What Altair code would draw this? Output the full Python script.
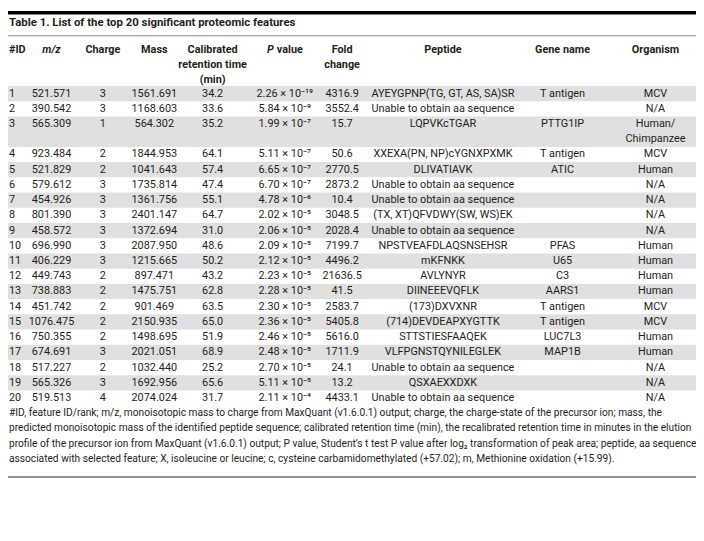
import altair as alt
import pandas as pd

TITLE = "Table 1. List of the top 20 significant proteomic features"
HEADERS = ["#ID", "m/z", "Charge", "Mass", "Calibrated\nretention time\n(min)",
           "P value", "Fold\nchange", "Peptide", "Gene name", "Organism"]
IDS = ["1", "2", "3", "4", "5", "6", "7", "8", "9", "10",
       "11", "12", "13", "14", "15", "16", "17", "18", "19", "20"]
MZ = ["521.571", "390.542", "565.309", "923.484", "521.829", "579.612", "454.926",
      "801.390", "458.572", "696.990", "406.229", "449.743", "738.883", "451.742",
      "1076.475", "750.355", "674.691", "517.227", "565.326", "519.513"]
CHARGE = ["3", "3", "1", "2", "2", "3", "3", "3", "3", "3",
          "3", "2", "2", "2", "2", "2", "3", "2", "3", "4"]
MASS = ["1561.691", "1168.603", "564.302", "1844.953", "1041.643", "1735.814",
        "1361.756", "2401.147", "1372.694", "2087.950", "1215.665", "897.471",
        "1475.751", "901.469", "2150.935", "1498.695", "2021.051", "1032.440",
        "1692.956", "2074.024"]
RT = ["34.2", "33.6", "35.2", "64.1", "57.4", "47.4", "55.1", "64.7", "31.0", "48.6",
      "50.2", "43.2", "62.8", "63.5", "65.0", "51.9", "68.9", "25.2", "65.6", "31.7"]
P_MANTISSA = ["2.26", "5.84", "1.99", "5.11", "6.65", "6.70", "4.78", "2.02", "2.06",
              "2.09", "2.12", "2.23", "2.28", "2.30", "2.36", "2.46", "2.48", "2.70",
              "5.11", "2.11"]
P_EXPONENT = [-19, -9, -7, -7, -7, -7, -6, -5, -5, -5,
              -5, -5, -5, -5, -5, -5, -5, -5, -5, -4]
FOLD = ["4316.9", "3552.4", "15.7", "50.6", "2770.5", "2873.2", "10.4", "3048.5",
        "2028.4", "7199.7", "4496.2", "21636.5", "41.5", "2583.7", "5405.8", "5616.0",
        "1711.9", "24.1", "13.2", "4433.1"]
UNABLE = "Unable to obtain aa sequence"
PEPTIDE = ["AYEYGPNP(TG, GT, AS, SA)SR", UNABLE, "LQPVKcTGAR", "XXEXA(PN, NP)cYGNXPXMK",
           "DLIVATIAVK", UNABLE, UNABLE, "(TX, XT)QFVDWY(SW, WS)EK", UNABLE,
           "NPSTVEAFDLAQSNSEHSR", "mKFNKK", "AVLYNYR", "DIINEEEVQFLK", "(173)DXVXNR",
           "(714)DEVDEAPXYGTTK", "STTSTIESFAAQEK", "VLFPGNSTQYNILEGLEK", UNABLE,
           "QSXAEXXDXK", UNABLE]
GENE = ["T antigen", "", "PTTG1IP", "T antigen", "ATIC", "", "", "", "", "PFAS",
        "U65", "C3", "AARS1", "T antigen", "T antigen", "LUC7L3", "MAP1B", "", "", ""]
ORGANISM = ["MCV", "N/A", "Human/\nChimpanzee", "MCV", "Human", "N/A", "N/A", "N/A",
            "N/A", "Human", "Human", "Human", "Human", "MCV", "MCV", "Human", "Human",
            "N/A", "N/A", "N/A"]
FOOTNOTE = [
    "#ID, feature ID/rank; m/z, monoisotopic mass to charge from MaxQuant (v1.6.0.1) output; charge, the charge-state of the precursor ion; mass, the",
    "predicted monoisotopic mass of the identified peptide sequence; calibrated retention time (min), the recalibrated retention time in minutes in the elution",
    "profile of the precursor ion from MaxQuant (v1.6.0.1) output; P value, Student\u2019s t test P value after log\u2082 transformation of peak area; peptide, aa sequence",
    "associated with selected feature; X, isoleucine or leucine; c, cysteine carbamidomethylated (+57.02); m, Methionine oxidation (+15.99).",
]

# ---------------- layout / style ----------------
FONT = "Roboto"
INK = "#231f20"
BAND = "#e0e0e0"
X_COL = [9, 52, 104, 156, 215, 288, 346, 448, 569, 663]
LINE0, LINE_H = 91.5, 15.4
HEADER_Y0 = 47
TITLE_Y = 20

SUP = str.maketrans("-0123456789", "\u207b\u2070\u00b9\u00b2\u00b3\u2074\u2075\u2076\u2077\u2078\u2079")
pvals = [f"{m} \u00d7 10{str(e).translate(SUP)}" for m, e in zip(P_MANTISSA, P_EXPONENT)]

columns = [IDS, MZ, CHARGE, MASS, RT, pvals, FOLD, PEPTIDE, GENE, ORGANISM]

# row -> starting line index
line_start, n_lines, cur = [], [], 0
for r in range(len(IDS)):
    n = max(len(col[r].split("\n")) for col in columns)
    line_start.append(cur)
    n_lines.append(n)
    cur += n
total_lines = cur


def line_y(k):
    return LINE0 + LINE_H * k


cells_left, cells_center = [], []
for r in range(len(IDS)):
    for c, col in enumerate(columns):
        for j, part in enumerate(col[r].split("\n")):
            if not part:
                continue
            rec = {"x": X_COL[c], "y": line_y(line_start[r] + j), "text": part}
            (cells_left if c == 0 else cells_center).append(rec)

hdr_left, hdr_center, hdr_italic = [], [], []
for c, h in enumerate(HEADERS):
    for j, part in enumerate(h.split("\n")):
        y = HEADER_Y0 + LINE_H * j
        if c == 0:
            hdr_left.append({"x": X_COL[c], "y": y, "text": part})
        elif part == "m/z":
            hdr_italic.append({"x": X_COL[c], "y": y, "text": part, "a": "center"})
        elif part == "P value":
            hdr_italic.append({"x": X_COL[c] - 11, "y": y, "text": "P", "a": "right"})
            hdr_left.append({"x": X_COL[c] - 8, "y": y, "text": "value"})
        else:
            hdr_center.append({"x": X_COL[c], "y": y, "text": part})

foot = [{"x": 9, "y": line_y(total_lines + i), "text": t} for i, t in enumerate(FOOTNOTE)]

bands = []
for r in range(len(IDS)):
    if r % 2 == 0:
        bands.append({"x": 8, "x2": 704,
                      "y": line_y(line_start[r]) - LINE_H / 2,
                      "y2": line_y(line_start[r] + n_lines[r] - 1) + LINE_H / 2})

X_SCALE = alt.Scale(domain=[8, 704], nice=False, zero=False)
Y_SCALE = alt.Scale(domain=[8, 541], nice=False, zero=False, reverse=True)


def xy():
    return dict(x=alt.X("x:Q", scale=X_SCALE, axis=None),
                y=alt.Y("y:Q", scale=Y_SCALE, axis=None))


def text_layer(rows, align="center", weight="normal", style="normal", size=11):
    return alt.Chart(pd.DataFrame(rows)).mark_text(
        align=align, baseline="middle", font=FONT, fontSize=size,
        fontWeight=weight, fontStyle=style, color=INK
    ).encode(text="text:N", **xy())


band_layer = alt.Chart(pd.DataFrame(bands)).mark_rect(color=BAND).encode(
    x2="x2:Q", y2="y2:Q", **xy())

rules = pd.DataFrame([
    {"x": 8, "x2": 704, "y": 8, "y2": 11.5, "c": "#000000"},
    {"x": 8, "x2": 704, "y": 32.5, "y2": 33.5, "c": "#8a8a8a"},
    {"x": 8, "x2": 704, "y": 478.5, "y2": 480, "c": "#707070"},
])
rule_layer = alt.Chart(rules).mark_rect().encode(
    x2="x2:Q", y2="y2:Q", color=alt.Color("c:N", scale=None), **xy())

layers = [
    band_layer,
    rule_layer,
    text_layer([{"x": 9, "y": TITLE_Y, "text": TITLE}], align="left", weight="bold", size=11.5),
    text_layer(hdr_left, align="left", weight="bold"),
    text_layer(hdr_center, align="center", weight="bold"),
    text_layer([h for h in hdr_italic if h["a"] == "center"], align="center", weight="bold", style="italic"),
    text_layer([h for h in hdr_italic if h["a"] == "right"], align="right", weight="bold", style="italic"),
    text_layer(cells_left, align="left"),
    text_layer(cells_center, align="center"),
    text_layer(foot, align="left", size=10.3),
]

chart = alt.layer(*layers).properties(
    width=696, height=533, autosize="none", padding=0
).configure_view(stroke=None)

chart.save("out.html", embed_options={"renderer": "svg", "actions": False})
